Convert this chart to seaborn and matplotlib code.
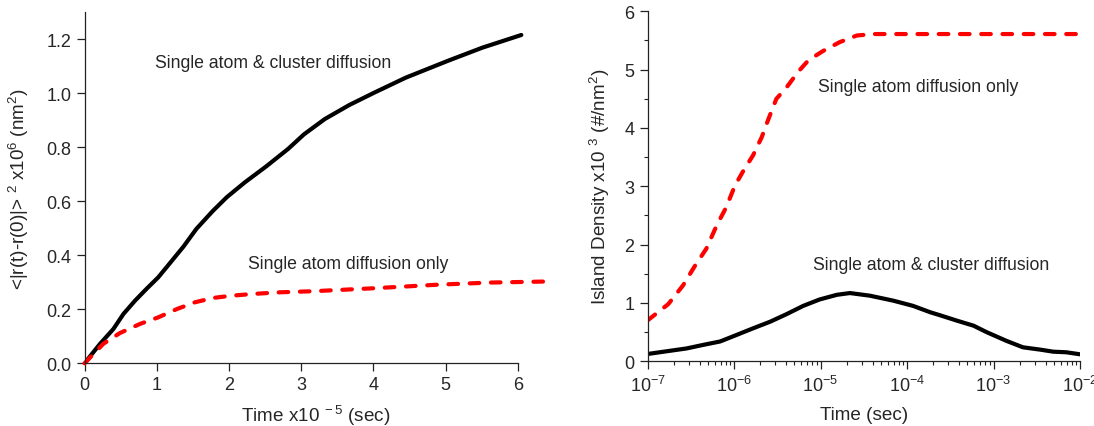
import matplotlib
matplotlib.use("Agg")
import matplotlib.pyplot as plt
from matplotlib.ticker import MultipleLocator, LogLocator
import numpy as np
import pandas as pd
import seaborn as sns

# Mean-square displacement vs time (time in units of 1e-5 s)
msd_time = [0.0, 0.215, 0.40, 0.54, 0.70, 0.86, 1.02, 1.18, 1.37, 1.55, 1.78,
            1.97, 2.22, 2.52, 2.82, 3.04, 3.33, 3.67, 4.01, 4.45, 5.03, 5.51, 6.05]
msd_cluster = [0.0, 0.072, 0.127, 0.183, 0.232, 0.276, 0.318, 0.370, 0.432,
               0.498, 0.565, 0.615, 0.670, 0.730, 0.794, 0.848, 0.905, 0.957,
               1.002, 1.058, 1.120, 1.169, 1.216]
msd_single_time = [0.0, 0.26, 0.49, 0.77, 1.02, 1.28, 1.53, 1.78, 2.02, 2.34,
                   2.71, 3.17, 4.01, 4.88, 5.61, 6.41]
msd_single = [0.0, 0.072, 0.112, 0.146, 0.170, 0.201, 0.226, 0.242, 0.250,
              0.257, 0.263, 0.267, 0.278, 0.291, 0.299, 0.303]

# Island density vs time (log10 of seconds)
dens_single_logt = [-7.0, -6.76, -6.59, -6.45, -6.32, -6.20, -6.09, -5.99, -5.89,
                    -5.78, -5.68, -5.60, -5.51, -5.39, -5.26, -5.14, -4.97, -4.78,
                    -4.58, -4.39, -2.0]
dens_single = [0.70, 0.98, 1.30, 1.64, 1.93, 2.33, 2.64, 3.01, 3.27, 3.53, 3.84,
               4.16, 4.50, 4.70, 4.96, 5.16, 5.32, 5.47, 5.585, 5.61, 5.61]
dens_cluster_logt = [-7.0, -6.74, -6.55, -6.36, -6.16, -5.99, -5.78, -5.58, -5.39,
                     -5.20, -5.01, -4.81, -4.66, -4.43, -4.16, -3.93, -3.73, -3.62,
                     -3.43, -3.23, -3.08, -2.85, -2.66, -2.46, -2.31, -2.16, -2.0]
dens_cluster = [0.125, 0.18, 0.22, 0.28, 0.34, 0.44, 0.565, 0.68, 0.81, 0.95,
                1.06, 1.14, 1.17, 1.125, 1.04, 0.95, 0.84, 0.79, 0.70, 0.61,
                0.50, 0.35, 0.24, 0.20, 0.165, 0.155, 0.12]

sns.set_style("ticks")
plt.rcParams["font.family"] = ["Liberation Sans", "DejaVu Sans"]
plt.rcParams["mathtext.fontset"] = "custom"
plt.rcParams["mathtext.rm"] = "Liberation Sans"
plt.rcParams["mathtext.it"] = "Liberation Sans"
plt.rcParams["mathtext.default"] = "regular"

W, H = 1094, 427
fig = plt.figure(figsize=(W / 100, H / 100), dpi=100)

def axes_px(x0, y0, x1, y1):
    return fig.add_axes([x0 / W, 1 - y1 / H, (x1 - x0) / W, (y1 - y0) / H])

TICK_FS = 13
LABEL_FS = 13.6
NOTE_FS = 12.7
LW = 3.0
RED = "#ff0000"
DASH = (2.3, 2.8)
AXIS_COLOR = "#222222"

def style_axes(ax):
    for s in ("top", "right"):
        ax.spines[s].set_visible(False)
    for s in ("left", "bottom"):
        ax.spines[s].set_color(AXIS_COLOR)
        ax.spines[s].set_linewidth(0.9)
    ax.tick_params(which="major", direction="out", length=5.5, width=0.9,
                   color=AXIS_COLOR, labelsize=TICK_FS, pad=4)
    ax.tick_params(which="minor", direction="out", length=3.2, width=0.8,
                   color=AXIS_COLOR)

def red_dashes(line):
    line.set_dashes(DASH)
    line.set_dash_capstyle("round")

# ---- left panel: mean-square displacement ----
ax1 = axes_px(84.5, 13.3, 546.6, 364.3)
left_cluster = pd.DataFrame({"t": msd_time, "msd": msd_cluster})
left_single = pd.DataFrame({"t": msd_single_time, "msd": msd_single})
sns.lineplot(data=left_cluster, x="t", y="msd", ax=ax1, color="black",
             linewidth=LW, sort=False, solid_capstyle="round")
sns.lineplot(data=left_single, x="t", y="msd", ax=ax1, color=RED,
             linewidth=LW, sort=False)
red_dashes(ax1.lines[-1])
ax1.lines[-1].set_clip_on(False)
ax1.set_xlim(0, 6.4)
ax1.set_ylim(0, 1.3)
ax1.set_xticks([0, 1, 2, 3, 4, 5, 6])
ax1.set_yticks([0.0, 0.2, 0.4, 0.6, 0.8, 1.0, 1.2])
ax1.set_yticklabels(["0.0", "0.2", "0.4", "0.6", "0.8", "1.0", "1.2"])
style_axes(ax1)
ax1.spines["bottom"].set_bounds(0, 6)
ax1.set_xlabel(r"Time x10$^{\ -5}$ (sec)", fontsize=LABEL_FS, labelpad=7)
ax1.set_ylabel(r"<|r(t)-r(0)|> $^{2}$ x10$^{6}$ (nm$^{2}$)", fontsize=LABEL_FS,
               labelpad=11)
ax1.text(2.61, 1.115, "Single atom & cluster diffusion", fontsize=NOTE_FS,
         ha="center", va="center")
ax1.text(3.655, 0.368, "Single atom diffusion only", fontsize=NOTE_FS,
         ha="center", va="center")

# ---- right panel: island density ----
ax2 = axes_px(647.5, 12.3, 1080, 362.3)
right_single = pd.DataFrame({"t": np.power(10.0, dens_single_logt), "d": dens_single})
right_cluster = pd.DataFrame({"t": np.power(10.0, dens_cluster_logt), "d": dens_cluster})
sns.lineplot(data=right_cluster, x="t", y="d", ax=ax2, color="black",
             linewidth=LW, sort=False, solid_capstyle="round")
sns.lineplot(data=right_single, x="t", y="d", ax=ax2, color=RED,
             linewidth=LW, sort=False)
red_dashes(ax2.lines[-1])
ax2.set_xscale("log")
ax2.set_xlim(1e-7, 1e-2)
ax2.set_ylim(0, 6)
ax2.xaxis.set_major_locator(LogLocator(base=10, numticks=10))
ax2.xaxis.set_minor_locator(LogLocator(base=10, subs=np.arange(2, 10), numticks=20))
ax2.yaxis.set_major_locator(MultipleLocator(1))
ax2.yaxis.set_minor_locator(MultipleLocator(0.5))
style_axes(ax2)
ax2.set_xlabel("Time (sec)", fontsize=LABEL_FS, labelpad=8)
ax2.set_ylabel(r"Island Density x10 $^{3}$ (#/nm$^{2}$)", fontsize=LABEL_FS,
               labelpad=9)
ax2.text(10 ** -3.868, 4.717, "Single atom diffusion only", fontsize=NOTE_FS,
         ha="center", va="center")
ax2.text(10 ** -3.724, 1.652, "Single atom & cluster diffusion", fontsize=NOTE_FS,
         ha="center", va="center")

fig.savefig("out.png", dpi=100)
